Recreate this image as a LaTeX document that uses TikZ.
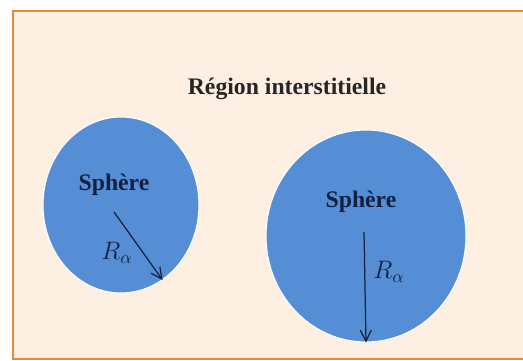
\documentclass[tikz,border=0pt]{standalone}
\usepackage{fontspec}
\setmainfont{Liberation Serif}
\usepackage{xcolor}
\usepackage{tikz}
\usetikzlibrary{arrows.meta, positioning, shapes.geometric}

\definecolor{cream}{HTML}{FDF0E3}
\definecolor{frameorange}{HTML}{E08A3C}
\definecolor{sphereblue}{HTML}{558ED5}
\definecolor{navy}{HTML}{14203F}

\begin{document}
\begin{tikzpicture}[
  x=0.02cm, y=-0.02cm,
  sphere/.style={ellipse, fill=sphereblue, draw=white, line width=0.6pt, inner sep=0pt},
  label/.style={font=\bfseries\fontsize{13.5}{15}\selectfont, text=navy},
  radius/.style={-{Straight Barb[length=2.2mm, width=2.2mm]}, navy, line width=0.7pt}
]
\useasboundingbox (0,0) rectangle (523,361);
\clip (0,0) rectangle (523,361);
\fill[white] (0,0) rectangle (523,361);
\draw[frameorange, line width=1.4pt, fill=cream] (13,11) rectangle (540,359);

\node[font=\bfseries\fontsize{13.5}{15}\selectfont, text=black!85] (title) at (287,89) {Région interstitielle};

\node[sphere, minimum width=3.12cm, minimum height=3.52cm] (sphL) at (121,205) {};
\node[sphere, minimum width=4.0cm, minimum height=4.24cm] (sphR) at (366,236) {};

\node[label] (nameL) at (114,185) {Sphère};
\node[label] (nameR) at (361,202) {Sphère};

\coordinate (startL) at (114,212);
\coordinate (startR) at (364,232);

\draw[radius] (startL) -- (sphL.-61);
\draw[radius] (startR) -- (sphR.south);

\node[text=navy, font=\Large] (radL) at (117,253) {$R_\alpha$};
\node[text=navy, font=\Large] (radR) at (389,272) {$R_\alpha$};
\end{tikzpicture}
\end{document}
